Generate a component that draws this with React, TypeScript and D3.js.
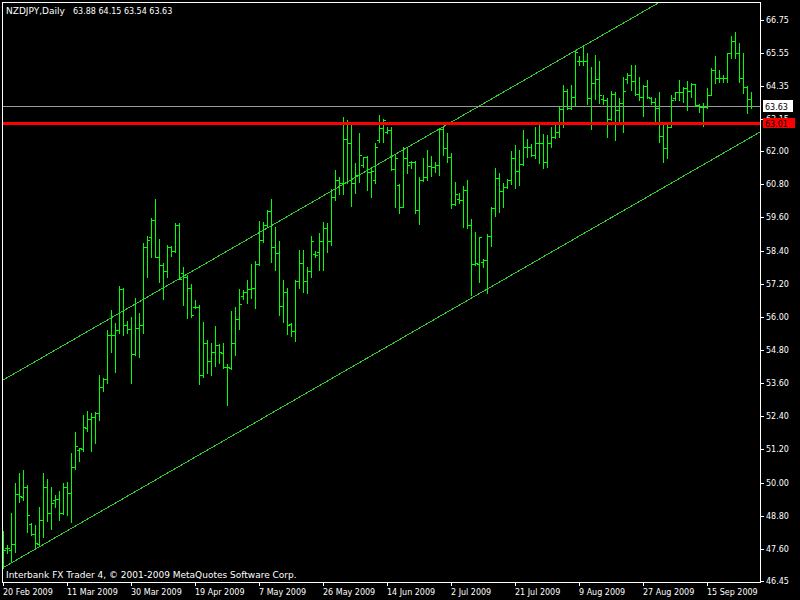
import * as d3 from "d3";

// NZDJPY daily bars, 20 Feb 2009 .. 28 Sep 2009 (Sunday bars included)
const opens = [
  46.98, 47.63, 47.56, 47.78, 49.59, 49.49, 49.85, 48.5, 48.13, 47.78, 48.65, 49.83, 48.89, 49.37, 49.42, 48.91,
  49.85, 49.64, 50.55, 51.18, 51.21, 51.98, 52.29, 52.39, 52.53, 53.45, 53.74, 55.34, 55.34, 55.52, 57.0, 55.7,
  55.55, 54.66, 55.59, 55.7, 58.52, 58.88, 59.5, 58.17, 57.88, 57.67, 58.54, 58.39, 59.32, 57.57, 57.45, 57.03,
  56.37, 56.34, 53.89, 55.04, 54.41, 54.74, 54.98, 54.7, 54.17, 54.14, 55.04, 55.91, 56.75, 56.91, 57.0, 57.03,
  57.91, 58.78, 59.31, 59.84, 58.54, 58.32, 56.39, 56.91, 55.74, 55.5, 57.31, 57.96, 57.31, 57.67, 58.27, 58.36,
  58.76, 59.2, 58.76, 60.33, 60.95, 60.85, 62.43, 62.3, 60.83, 61.13, 61.5, 61.77, 61.25, 60.95, 62.4, 62.82,
  62.7, 62.76, 61.34, 60.77, 59.99, 61.74, 61.62, 61.62, 59.87, 60.95, 61.05, 61.46, 61.43, 61.5, 62.79, 62.1,
  61.8, 60.08, 60.27, 60.23, 60.59, 59.32, 57.91, 57.91, 57.98, 58.06, 58.93, 59.93, 61.01, 60.56, 60.69, 60.95,
  61.74, 61.29, 61.53, 62.14, 62.14, 61.86, 62.3, 62.3, 61.62, 62.28, 62.5, 62.7, 63.51, 64.17, 63.55, 63.97,
  65.27, 65.27, 65.27, 63.91, 64.47, 64.6, 63.87, 63.85, 63.15, 64.06, 63.49, 63.73, 64.6, 64.75, 64.55, 64.06,
  63.95, 64.35, 63.91, 63.79, 63.55, 62.54, 62.1, 62.88, 63.91, 64.15, 64.15, 64.27, 64.18, 64.43, 63.67, 63.61,
  63.58, 64.03, 64.93, 64.63, 64.63, 64.63, 65.56, 65.99, 65.56, 64.63, 64.31, 63.88,
];
const highs = [
  48.25, 47.74, 48.91, 49.99, 50.36, 50.46, 49.91, 48.55, 48.47, 49.12, 50.36, 50.13, 49.85, 49.55, 49.71, 49.97,
  50.03, 51.06, 51.83, 51.25, 52.45, 52.6, 52.51, 52.55, 53.89, 53.79, 55.52, 56.25, 55.77, 57.12, 57.03, 55.86,
  56.0, 56.67, 56.13, 58.68, 58.93, 59.57, 60.27, 58.81, 57.94, 58.6, 58.56, 59.41, 59.39, 57.79, 57.51, 57.19,
  56.61, 56.43, 55.82, 55.16, 55.04, 55.67, 55.02, 55.04, 54.29, 56.22, 56.35, 56.99, 56.97, 57.33, 57.91, 58.03,
  59.48, 59.43, 59.87, 60.25, 59.26, 58.74, 57.33, 57.05, 55.77, 57.33, 58.42, 58.42, 57.79, 58.93, 58.39, 59.05,
  59.44, 59.41, 60.63, 61.31, 61.06, 63.24, 63.12, 63.0, 61.56, 62.64, 61.77, 61.82, 61.38, 62.3, 63.3, 63.15,
  62.88, 62.88, 61.89, 60.81, 62.14, 62.1, 61.65, 61.65, 61.07, 61.74, 62.04, 61.82, 61.62, 62.82, 62.88, 62.64,
  61.92, 60.89, 60.47, 60.74, 60.95, 59.53, 59.08, 58.9, 58.08, 59.0, 59.96, 61.38, 61.19, 60.85, 60.98, 62.01,
  62.22, 62.04, 62.76, 62.43, 62.26, 62.88, 62.94, 62.62, 62.58, 62.86, 63.03, 63.63, 64.39, 64.24, 64.39, 65.62,
  65.44, 65.84, 65.54, 65.03, 65.48, 65.27, 64.03, 63.91, 64.18, 64.15, 63.91, 64.69, 64.84, 65.12, 65.12, 64.69,
  64.39, 64.57, 63.97, 63.91, 64.15, 62.94, 62.94, 64.03, 64.15, 64.57, 64.33, 64.55, 64.47, 64.43, 63.7, 63.73,
  64.27, 64.99, 65.44, 64.93, 64.75, 65.56, 66.16, 66.32, 65.9, 65.56, 64.35, 64.15,
];
const lows = [
  46.91, 47.45, 47.14, 47.5, 49.31, 49.37, 48.22, 48.1, 47.68, 47.74, 48.04, 48.62, 48.31, 49.11, 48.65, 48.86,
  48.83, 48.59, 50.48, 50.79, 51.16, 51.88, 51.16, 51.44, 52.27, 53.33, 53.6, 54.74, 54.01, 55.4, 55.34, 55.4,
  53.6, 54.62, 54.54, 55.43, 57.43, 58.18, 58.16, 57.27, 56.63, 57.45, 58.2, 58.36, 57.36, 56.43, 55.95, 55.98,
  56.31, 53.57, 53.81, 53.96, 53.89, 54.22, 54.34, 54.14, 52.81, 54.1, 54.62, 55.55, 56.63, 56.51, 56.68, 56.31,
  57.88, 58.71, 59.26, 57.99, 57.7, 56.07, 55.82, 55.38, 55.31, 55.13, 57.03, 56.9, 56.85, 57.45, 58.18, 57.7,
  57.7, 58.36, 58.6, 60.23, 60.45, 60.45, 60.84, 60.01, 60.47, 60.89, 61.43, 60.59, 60.33, 60.85, 62.34, 62.34,
  62.64, 61.31, 59.96, 59.75, 59.97, 61.22, 61.38, 59.77, 59.36, 60.9, 60.95, 61.1, 61.25, 61.13, 61.86, 61.62,
  59.93, 60.05, 60.11, 59.26, 59.2, 56.79, 57.88, 57.27, 57.81, 56.85, 58.56, 59.65, 59.81, 59.99, 60.65, 60.81,
  60.65, 60.77, 61.5, 61.77, 61.82, 61.74, 61.58, 61.38, 61.41, 62.14, 62.48, 62.5, 62.86, 63.51, 63.51, 63.63,
  65.12, 65.12, 63.7, 62.79, 63.87, 63.73, 63.7, 62.5, 63.12, 62.4, 63.1, 62.7, 64.45, 64.21, 64.03, 63.85,
  63.27, 63.91, 63.7, 63.0, 62.34, 61.62, 61.76, 62.86, 63.85, 63.85, 63.79, 63.49, 63.97, 63.63, 63.42, 62.91,
  63.55, 64.03, 64.47, 64.51, 64.51, 64.51, 65.36, 65.36, 64.51, 64.11, 63.37, 63.54,
];
const closes = [
  47.56, 47.63, 47.78, 49.59, 49.52, 49.85, 48.82, 48.13, 47.8, 48.65, 49.83, 48.89, 49.25, 49.42, 48.91, 49.85,
  49.64, 50.55, 51.32, 51.24, 52.02, 52.29, 52.39, 52.52, 53.45, 53.74, 55.34, 55.34, 55.52, 57.0, 55.7, 55.55,
  54.66, 55.59, 55.7, 58.52, 58.78, 59.5, 58.17, 57.88, 57.67, 58.54, 58.39, 59.32, 57.37, 57.45, 57.03, 56.07,
  56.34, 53.89, 55.04, 54.41, 54.74, 54.98, 54.73, 54.17, 54.17, 55.04, 55.91, 56.46, 56.91, 57.0, 57.03, 57.91,
  58.78, 59.31, 59.84, 58.54, 58.32, 56.39, 56.91, 55.7, 55.5, 57.31, 57.96, 57.31, 57.67, 58.76, 58.24, 58.76,
  59.2, 58.76, 60.33, 60.95, 60.85, 62.43, 62.3, 60.83, 61.13, 61.86, 61.77, 61.25, 61.29, 62.14, 62.82, 63.12,
  62.76, 61.34, 61.74, 59.99, 61.74, 61.5, 61.62, 59.87, 60.95, 61.05, 61.46, 61.43, 61.5, 62.79, 62.1, 61.8,
  60.08, 60.45, 60.23, 60.59, 59.32, 57.91, 57.94, 58.88, 58.06, 58.93, 59.93, 61.01, 60.56, 60.69, 60.95, 61.74,
  61.29, 61.53, 62.14, 62.14, 61.86, 62.3, 62.3, 61.62, 62.28, 62.5, 62.7, 63.51, 64.17, 63.55, 63.97, 65.6,
  65.27, 65.27, 63.91, 64.47, 64.6, 64.03, 63.85, 63.15, 64.06, 63.49, 63.73, 64.18, 64.75, 64.55, 64.06, 63.95,
  64.35, 63.97, 63.79, 63.55, 62.54, 62.1, 62.88, 63.85, 64.15, 64.15, 64.27, 64.18, 64.43, 63.67, 63.61, 63.58,
  64.03, 64.93, 64.63, 64.63, 64.63, 65.56, 65.99, 65.56, 64.63, 64.31, 63.87, 63.63,
];

const dateLabels = [
  "20 Feb 2009", "11 Mar 2009", "30 Mar 2009", "19 Apr 2009", "7 May 2009", "26 May 2009",
  "14 Jun 2009", "2 Jul 2009", "21 Jul 2009", "9 Aug 2009", "27 Aug 2009", "15 Sep 2009",
];
const dateLabelEvery = 16; // one label every 16 bars

const priceTicks = [
  66.75, 65.55, 64.35, 63.15, 62.0, 60.8, 59.6, 58.4, 57.2, 56.0, 54.8, 53.6, 52.4, 51.2, 50.0, 48.8, 47.6, 46.45,
];

// channel (trend lines) anchored at two bars
const channelBars = [0, 187];
const upperChannel = [53.71, 69.29];
const lowerChannel = [46.92, 62.5];

const bidPrice = 63.63;
const levelPrice = 63.01;

const symbol = "NZDJPY,Daily";
const footer = "Interbank FX Trader 4, \u00a9 2001-2009 MetaQuotes Software Corp.";

const W = 800;
const H = 600;
const frame = { left: 2, top: 2, right: 760, bottom: 582 };
const font = "'DejaVu Sans', Verdana, sans-serif";
const fontSize = 8; // numbers
const wordSize = 9; // text with letters
const barColor = "#00ff00";
const channelColor = "#32cd32";

const App = () => {
  const x = d3.scaleLinear().domain([0, 187]).range([3, 751]);
  const y = d3.scaleLinear().domain([46.45, 66.75]).range([580.7, 19.8]);
  const py = (v: number) => Math.round(y(v));

  const last = opens.length - 1;
  const titleValues = [opens[last], highs[last], lows[last], closes[last]].map((v) => v.toFixed(2)).join(" ");

  // extend the channel as rays across the whole chart
  const chanAt = (vals: number[], i: number) =>
    vals[0] + ((vals[1] - vals[0]) * (i - channelBars[0])) / (channelBars[1] - channelBars[0]);
  const rayEnd = x.invert(frame.right);
  const chanLine = d3
    .line<[number, number]>()
    .x((d) => x(d[0]))
    .y((d) => y(d[1]));

  const upperPts: [number, number][] = [
    [channelBars[0], chanAt(upperChannel, channelBars[0])],
    [rayEnd, chanAt(upperChannel, rayEnd)],
  ];
  const lowerPts: [number, number][] = [
    [channelBars[0], chanAt(lowerChannel, channelBars[0])],
    [rayEnd, chanAt(lowerChannel, rayEnd)],
  ];

  return (
    <svg
      width={W}
      height={H}
      style={{ position: "absolute", left: 0, top: 0, display: "block" }}
      fontFamily={font}
    >
      <defs>
        <clipPath id="plot">
          <rect x={frame.left + 1} y={frame.top + 1} width={frame.right - frame.left - 1} height={frame.bottom - frame.top - 1} />
        </clipPath>
      </defs>
      <rect x={0} y={0} width={W} height={H} fill="#000" />

      <g clipPath="url(#plot)" shapeRendering="crispEdges">
        {/* channel lines */}
        <path d={chanLine(upperPts) || ""} stroke={channelColor} strokeWidth={1} fill="none" />
        <path d={chanLine(lowerPts) || ""} stroke={channelColor} strokeWidth={1} fill="none" />

        {/* bid line */}
        <rect x={frame.left} y={py(bidPrice)} width={frame.right - frame.left} height={1} fill="#9a9a9a" />

        {/* bars */}
        {opens.map((o, i) => {
          const cx = Math.round(x(i));
          const top = py(highs[i]);
          const bot = py(lows[i]);
          return (
            <g key={i} fill={barColor}>
              <rect x={cx} y={top} width={1} height={bot - top + 1} />
              <rect x={cx - 2} y={py(o)} width={2} height={1} />
              <rect x={cx + 1} y={py(closes[i])} width={2} height={1} />
            </g>
          );
        })}

        {/* horizontal level */}
        <rect x={frame.left} y={py(levelPrice) - 1} width={frame.right - frame.left} height={3} fill="#ff0000" />
      </g>

      {/* frame */}
      <rect
        x={frame.left + 0.5}
        y={frame.top + 0.5}
        width={frame.right - frame.left}
        height={frame.bottom - frame.top}
        fill="none"
        stroke="#fff"
        strokeWidth={1}
        shapeRendering="crispEdges"
      />

      {/* price axis */}
      <g fill="#fff" fontSize={fontSize}>
        {priceTicks.map((t) => (
          <g key={t}>
            <rect x={frame.right + 1} y={py(t)} width={3} height={1} shapeRendering="crispEdges" />
            <text x={frame.right + 6} y={py(t) + 3}>
              {t.toFixed(2)}
            </text>
          </g>
        ))}
      </g>

      {/* bid label */}
      <rect x={763} y={py(bidPrice) - 6} width={30} height={12} fill="#fff" />
      <text x={765} y={py(bidPrice) + 3.5} fontSize={fontSize} fill="#000">
        {bidPrice.toFixed(2)}
      </text>
      {/* level label */}
      <rect x={763} y={py(levelPrice) - 5} width={32} height={10} fill="#ff0000" />
      <text x={765} y={py(levelPrice) + 3.5} fontSize={fontSize} fill="#000">
        {levelPrice.toFixed(2)}
      </text>

      {/* time axis */}
      <g fill="#fff" fontSize={fontSize}>
        {dateLabels.map((label, k) => {
          const tx = Math.round(x(k * dateLabelEvery));
          return (
            <g key={label}>
              <rect x={tx} y={frame.bottom + 1} width={1} height={3} shapeRendering="crispEdges" />
              <text x={tx} y={594.5}>
                {label}
              </text>
            </g>
          );
        })}
      </g>

      <text x={6} y={14} fill="#fff" fontSize={wordSize}>
        {symbol}
      </text>
      <text x={73} y={14} fill="#fff" fontSize={fontSize}>
        {titleValues}
      </text>
      <text x={6} y={578} fill="#fff" fontSize={wordSize}>
        {footer}
      </text>
    </svg>
  );
};

export default App;
